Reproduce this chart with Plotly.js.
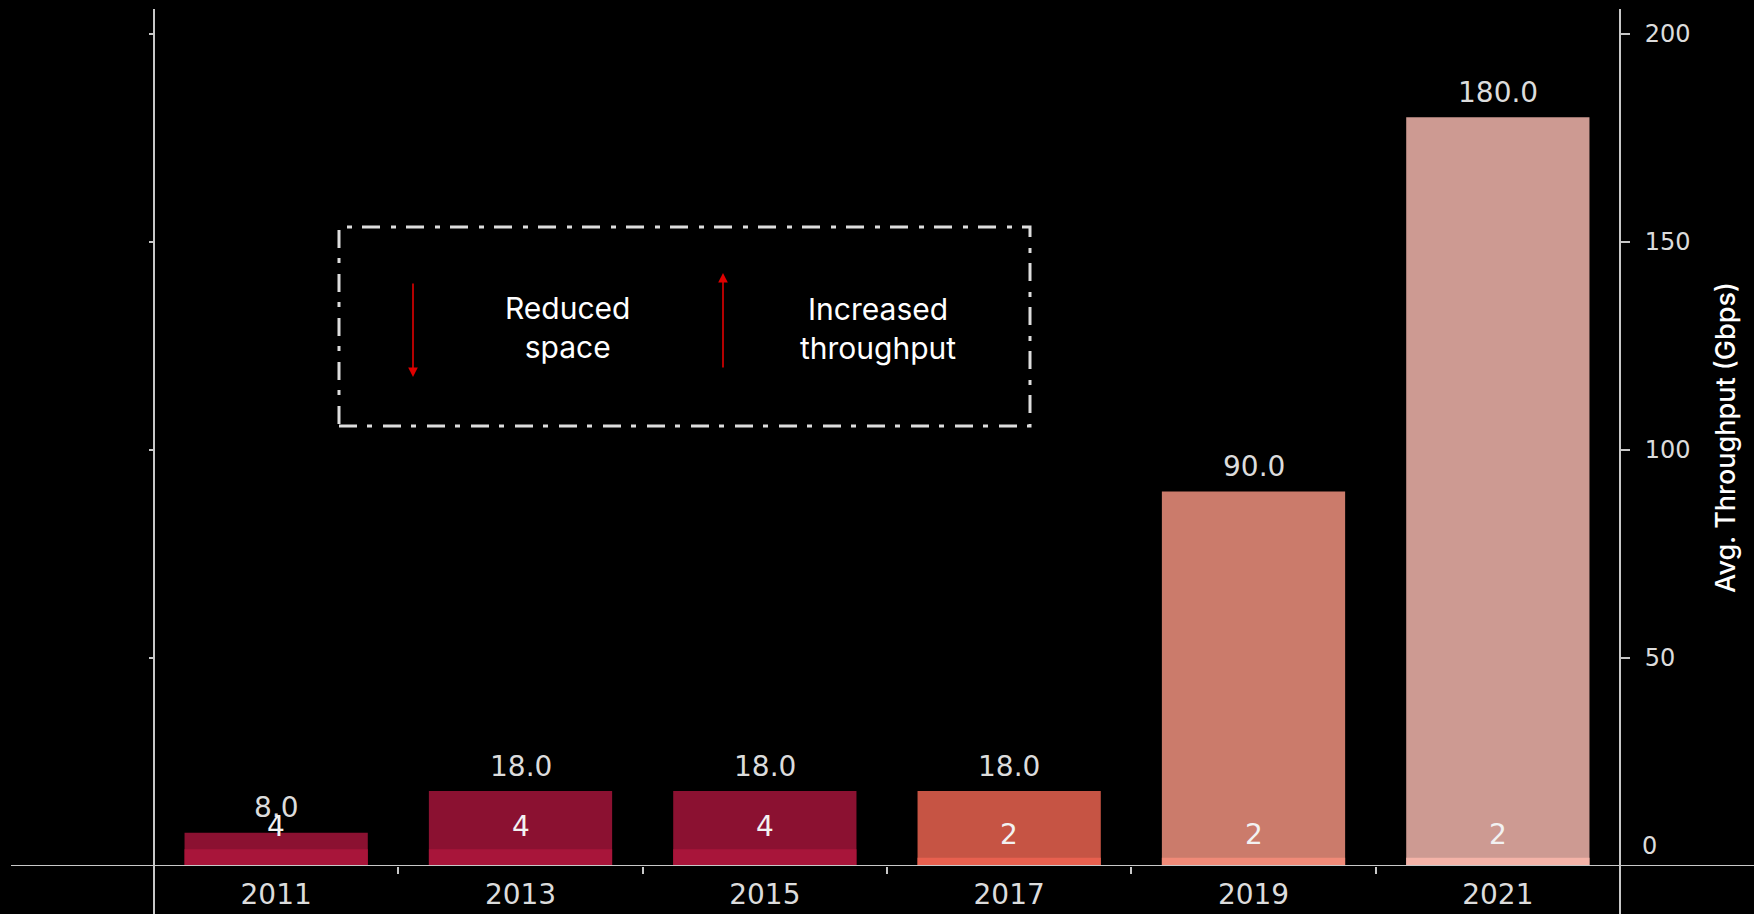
<!DOCTYPE html>
<html>
<head>
<meta charset="utf-8">
<script src="https://cdn.plot.ly/plotly-3.0.1.min.js"></script>
<style>html,body{margin:0;padding:0;background:#000;}#chart{width:1754px;height:914px;}</style>
</head>
<body>
<div id="chart"></div>
<script>
// Data
const years = ['2011', '2013', '2015', '2017', '2019', '2021'];
const throughputGbps = [8.0, 18.0, 18.0, 18.0, 90.0, 180.0];
const spaceUnits = [4, 4, 4, 2, 2, 2];
const throughputColors = ['#8b1131', '#8b1131', '#8b1131', '#c65444', '#cb7b6b', '#cd9a92'];
const spaceColors = ['#a8153a', '#a8153a', '#a8153a', '#e8604f', '#f08a78', '#f4b3a8'];
const yTicks = [50, 100, 150, 200];
const legendTexts = ['Reduced<br>space', 'Increased<br>throughput'];

const axisCol = '#c8c8c8';
const labelFont = {family: 'DejaVu Sans', size: 28, color: '#dcdcdc'};

const traces = [
  {
    type: 'bar', x: years, y: throughputGbps, yaxis: 'y',
    marker: {color: throughputColors, line: {width: 0}},
    hoverinfo: 'skip', showlegend: false
  },
  {
    type: 'bar', x: years, y: spaceUnits, yaxis: 'y2',
    marker: {color: spaceColors, line: {width: 0}},
    hoverinfo: 'skip', showlegend: false
  }
];

const W = 1466, H = 857;
function px(x) { return (x - 154) / W; }
function py(y) { return (866 - y) / H; }

// value labels placed through the category axis (index of each category) and value axes
const valueAnnotations = [];
years.forEach((yr, i) => {
  valueAnnotations.push({
    xref: 'x', yref: 'y', x: i, y: throughputGbps[i], text: throughputGbps[i].toFixed(1),
    showarrow: false, xanchor: 'center', yanchor: 'middle', yshift: 25,
    font: {family: 'DejaVu Sans', size: 28, color: '#dcdcdc'}
  });
});
years.forEach((yr, i) => {
  valueAnnotations.push({
    xref: 'x', yref: 'y2', x: i, y: spaceUnits[i], text: String(spaceUnits[i]),
    showarrow: false, xanchor: 'center', yanchor: 'middle', yshift: 23,
    font: {family: 'DejaVu Sans', size: 28, color: '#f2f2f2'}
  });
});

const layout = {
  width: 1754, height: 914,
  paper_bgcolor: '#000', plot_bgcolor: '#000',
  margin: {l: 154, r: 134, t: 9, b: 48},
  bargap: 0.25,
  showlegend: false,
  xaxis: {
    type: 'category', range: [-0.5, 5.5],
    showline: false, showgrid: false, zeroline: false,
    ticks: 'outside', tickson: 'boundaries', ticklen: 7, tickwidth: 2, tickcolor: axisCol,
    tickfont: labelFont, ticklabelstandoff: 9
  },
  yaxis: {
    side: 'right', range: [0, 206], tickvals: yTicks,
    showline: false, showgrid: false, zeroline: false,
    ticks: 'outside', ticklen: 9, tickwidth: 2, tickcolor: axisCol,
    tickfont: {family: 'DejaVu Sans', size: 24, color: '#dcdcdc'}, ticklabelstandoff: 10,
    title: {text: 'Avg. Throughput (Gbps)', font: {family: 'Inter', size: 27, color: '#ffffff', weight: 500}, standoff: 26}
  },
  yaxis2: {
    overlaying: 'y', side: 'left', range: [0, 206], tickvals: [50, 100, 150, 200],
    showline: false, showgrid: false, zeroline: false, showticklabels: false,
    ticks: 'outside', ticklen: 4, tickwidth: 2, tickcolor: axisCol
  },
  shapes: [
    {type: 'line', xref: 'paper', yref: 'y', x0: px(11), x1: px(1754), y0: 0, y1: 0, line: {color: axisCol, width: 2}, layer: 'above'},
    {type: 'line', xref: 'paper', yref: 'paper', x0: 0, x1: 0, y0: 1, y1: py(914), line: {color: axisCol, width: 2}, layer: 'above'},
    {type: 'line', xref: 'paper', yref: 'paper', x0: 1, x1: 1, y0: 1, y1: py(914), line: {color: axisCol, width: 2}, layer: 'above'},
    {type: 'rect', xref: 'paper', yref: 'paper', x0: px(339), x1: px(1030), y0: py(426), y1: py(227),
     line: {color: '#dddddd', width: 3, dash: '18px,10px,5px,11px'}, fillcolor: 'rgba(0,0,0,0)', layer: 'above'}
  ],
  annotations: valueAnnotations.concat([
    {xref: 'paper', yref: 'y', x: 1, y: 0, xanchor: 'left', yanchor: 'middle', xshift: 20, yshift: 20,
     text: '0', showarrow: false, font: {family: 'DejaVu Sans', size: 24, color: '#dcdcdc'}},
    {xref: 'paper', yref: 'paper', x: px(413), y: py(377), ax: 0, ay: -95, text: '', showarrow: true,
     arrowhead: 2, arrowsize: 1.2, arrowwidth: 1.6, arrowcolor: '#e00000'},
    {xref: 'paper', yref: 'paper', x: px(723), y: py(273), ax: 0, ay: 96, text: '', showarrow: true,
     arrowhead: 2, arrowsize: 1.2, arrowwidth: 1.6, arrowcolor: '#e00000'},
    {xref: 'paper', yref: 'paper', x: px(567), y: py(327), text: legendTexts[0], showarrow: false,
     xanchor: 'center', yanchor: 'middle', align: 'center', font: {family: 'Inter', size: 30, color: '#ffffff'}},
    {xref: 'paper', yref: 'paper', x: px(878), y: py(328), text: legendTexts[1], showarrow: false,
     xanchor: 'center', yanchor: 'middle', align: 'center', font: {family: 'Inter', size: 30, color: '#ffffff'}}
  ])
};

Plotly.newPlot('chart', traces, layout, {displayModeBar: false, staticPlot: true});
</script>
</body>
</html>
